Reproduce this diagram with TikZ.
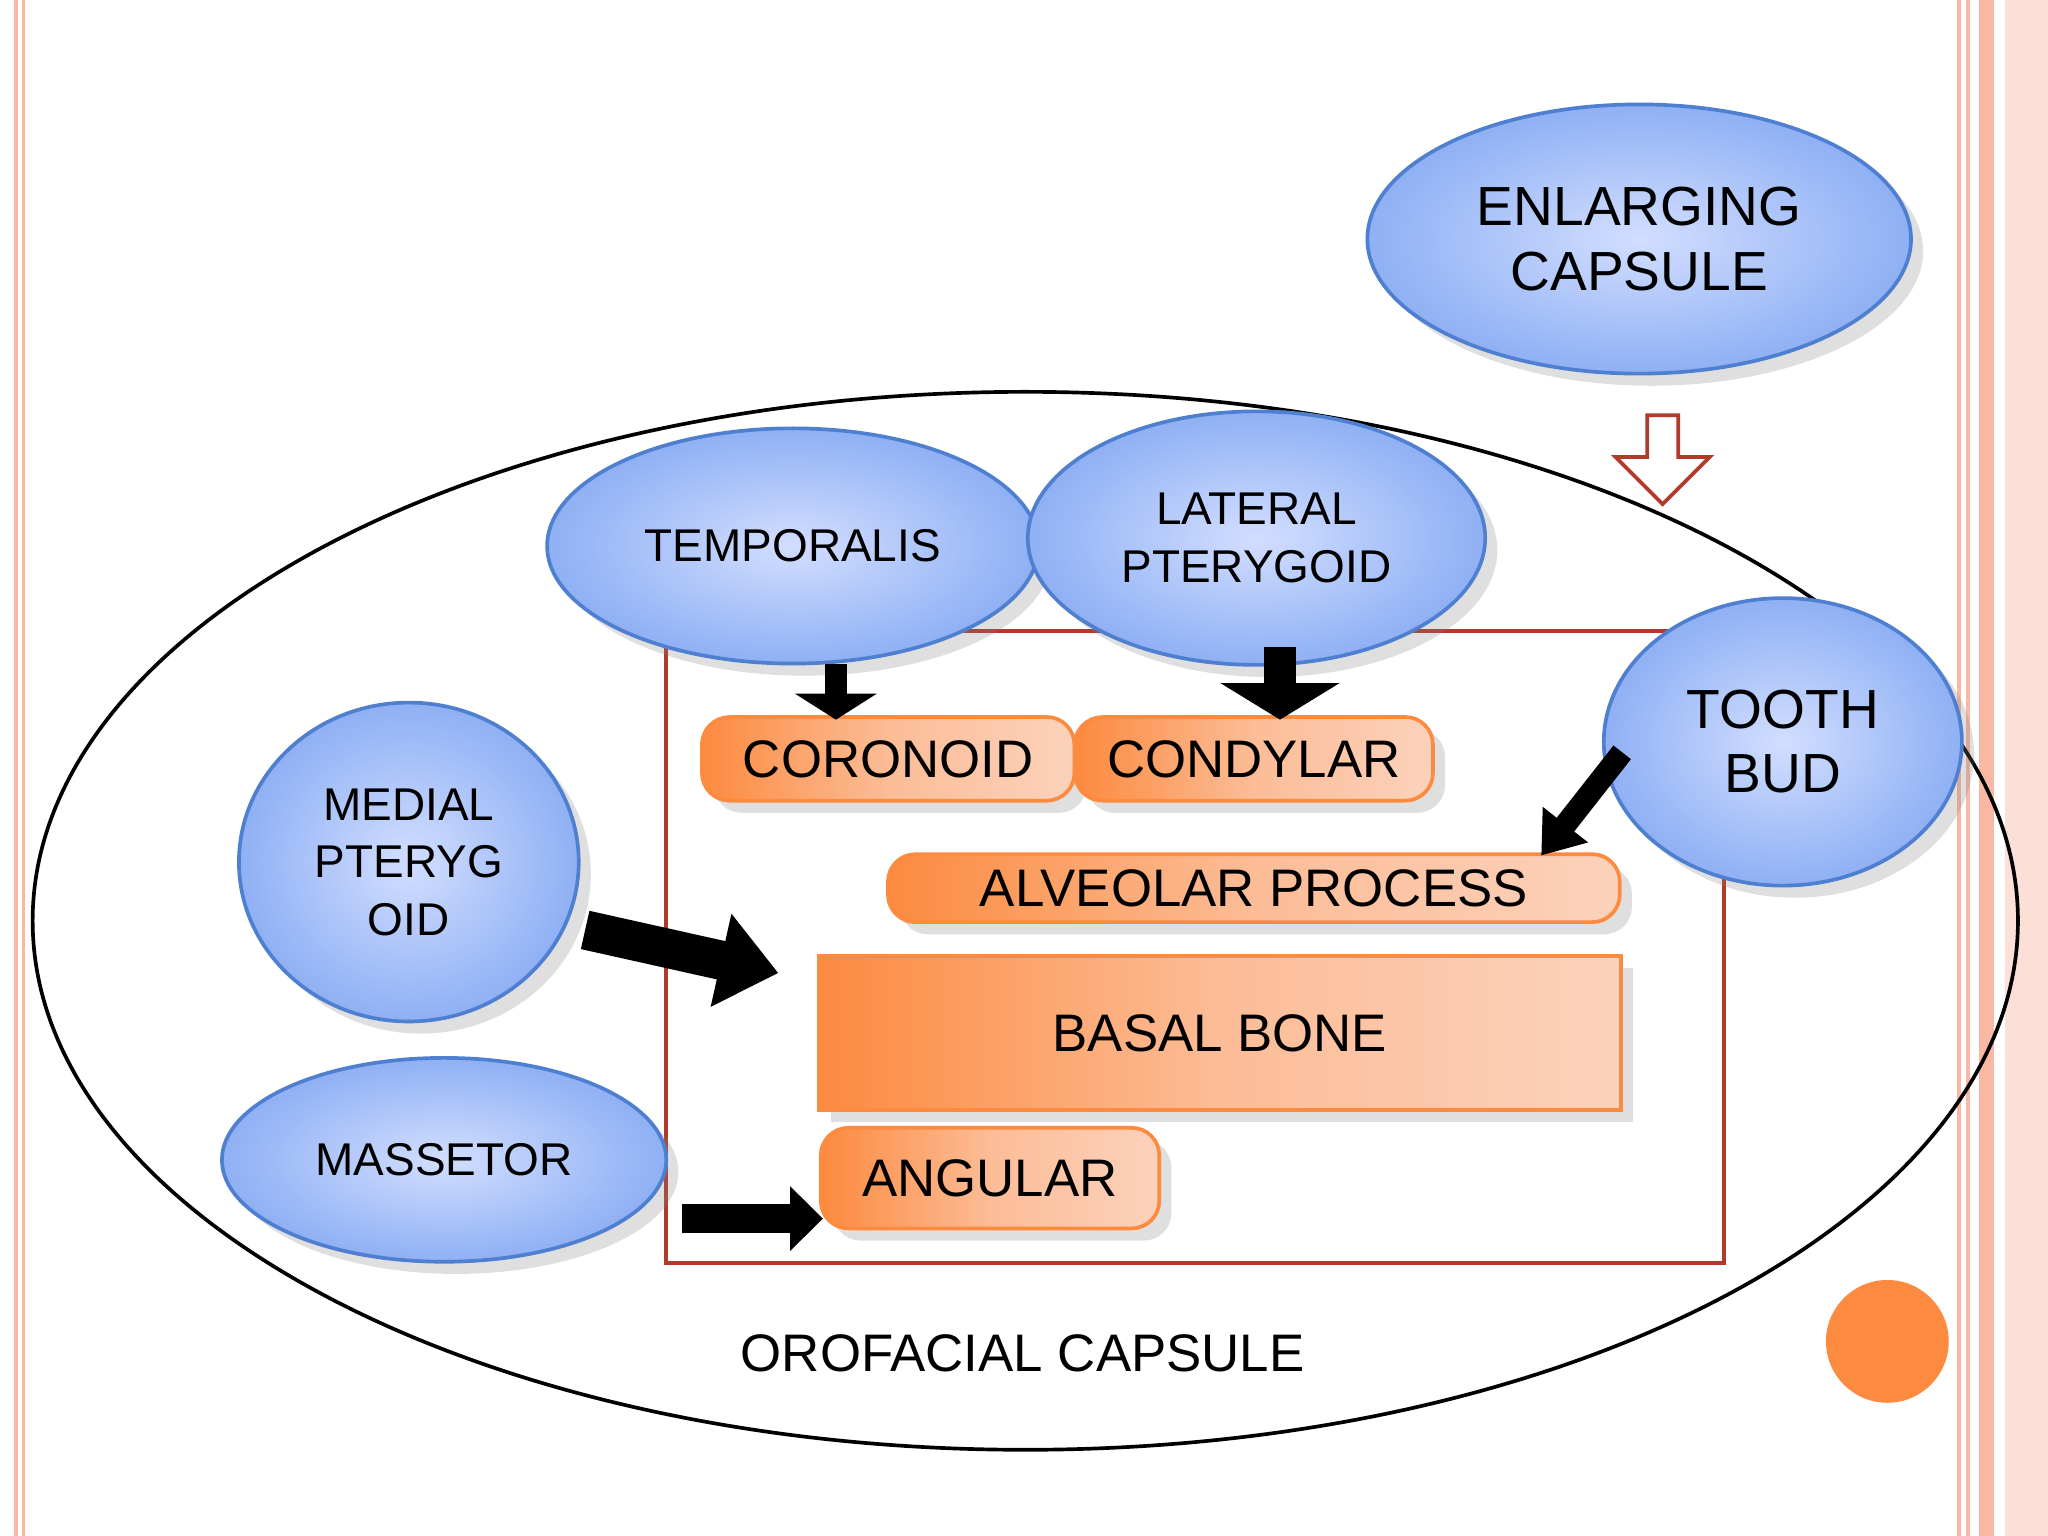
\documentclass[tikz,border=0pt]{standalone}
\usepackage{fontspec}
\setmainfont{Liberation Sans}
\usetikzlibrary{shapes.geometric,shapes.arrows,arrows.meta,shadows}
\definecolor{blueedge}{HTML}{4F7FD0}
\definecolor{bluein}{HTML}{D2DEFF}
\definecolor{blueout}{HTML}{8FB0F4}
\definecolor{orng}{HTML}{FC8A3F}
\definecolor{orngl}{HTML}{FCD2BC}
\definecolor{redbox}{HTML}{B23A2A}
\definecolor{stripe}{HTML}{F8B8A4}
\begin{document}
\begin{tikzpicture}[x=0.01cm,y=-0.01cm,
  blob/.style={ellipse,draw=blueedge,thick,inner sep=0pt,inner color=bluein,outer color=blueout,
    drop shadow={opacity=0.25},align=center,font=\fontsize{10}{12.5}\selectfont},
  bone/.style={draw=orng,thick,rounded corners=6pt,inner sep=0pt,left color=orng,right color=orngl,
    middle color=orngl!70!orng,drop shadow={opacity=0.25},font=\fontsize{11.5}{13}\selectfont},
  push/.style={line width=0.17cm,-{Triangle[length=0.3cm,width=0.42cm]}}]
\useasboundingbox (0,0) rectangle (1568,1176);
\fill[white] (0,0) rectangle (1568,1176);
% page borders
\draw[stripe,thick] (12,0) -- (12,1176) (18,0) -- (18,1176);
\draw[stripe,thick] (1500,0) -- (1500,1176) (1507,0) -- (1507,1176);
\fill[stripe] (1515,0) rectangle (1527,1176);
\fill[stripe!45] (1535,0) rectangle (1568,1176);
% capsule
\draw[thick] (785,705) ellipse [x radius=760,y radius=405];
\node[font=\fontsize{11.5}{13}\selectfont] (oro) at (783,1036) {OROFACIAL CAPSULE};
\draw[redbox,thick] (510,483) rectangle (1320,967);
% bone parts
\node[bone,minimum width=2.85cm,minimum height=0.64cm] (cor) at (680,581) {CORONOID};
\node[bone,minimum width=2.74cm,minimum height=0.64cm] (con) at (960,581) {CONDYLAR};
\node[bone,minimum width=5.6cm,minimum height=0.52cm] (alv) at (960,680) {ALVEOLAR PROCESS};
\node[bone,rounded corners=0pt,minimum width=6.14cm,minimum height=1.18cm] (bas) at (934,791) {BASAL BONE};
\node[bone,minimum width=2.59cm,minimum height=0.77cm] (ang) at (758,902) {ANGULAR};
% muscles
\node[blob,minimum width=4.16cm,minimum height=2.06cm,font=\fontsize{12}{14}\selectfont] (enl) at (1255,183) {ENLARGING\\CAPSULE};
\node[blob,minimum width=3.76cm,minimum height=1.8cm] (tem) at (607,418) {TEMPORALIS};
\node[blob,minimum width=3.5cm,minimum height=1.94cm] (lat) at (962,412) {LATERAL\\PTERYGOID};
\node[blob,minimum width=2.74cm,minimum height=2.2cm,font=\fontsize{12}{14}\selectfont] (too) at (1365,568) {TOOTH\\BUD};
\node[blob,minimum width=2.6cm,minimum height=2.44cm] (med) at (313,660) {MEDIAL\\PTERYG\\OID};
\node[blob,minimum width=3.4cm,minimum height=1.56cm] (mas) at (340,888) {MASSETOR};
% arrows
\coordinate (t1) at (640,508); \coordinate (t2) at (640,551);
\draw[push,-{Triangle[length=0.2cm,width=0.62cm]}] (t1) -- (t2);
\coordinate (c1) at (980,495); \coordinate (c2) at (980,551);
\draw[push,line width=0.24cm,-{Triangle[length=0.28cm,width=0.9cm]}] (c1) -- (c2);
\coordinate (b1) at (1242,576); \coordinate (b2) at (1180,655);
\draw[push] (b1) -- (b2);
\coordinate (m1) at (448,712); \coordinate (m2) at (596,745);
\draw[push,line width=0.3cm,-{Triangle[length=0.45cm,width=0.7cm]}] (m1) -- (m2);
\coordinate (s1) at (522,933); \coordinate (s2) at (630,933);
\draw[push,line width=0.22cm,-{Triangle[length=0.25cm,width=0.48cm]}] (s1) -- (s2);
\node[single arrow,draw=redbox,thick,fill=white,shape border rotate=270,
  minimum width=0.72cm,single arrow head extend=0.1cm,minimum height=0.68cm,inner sep=1pt]
  (hol) at (1273,346) {};
% decoration
\fill[orng] (1445,1027) circle [radius=47];
\end{tikzpicture}
\end{document}
